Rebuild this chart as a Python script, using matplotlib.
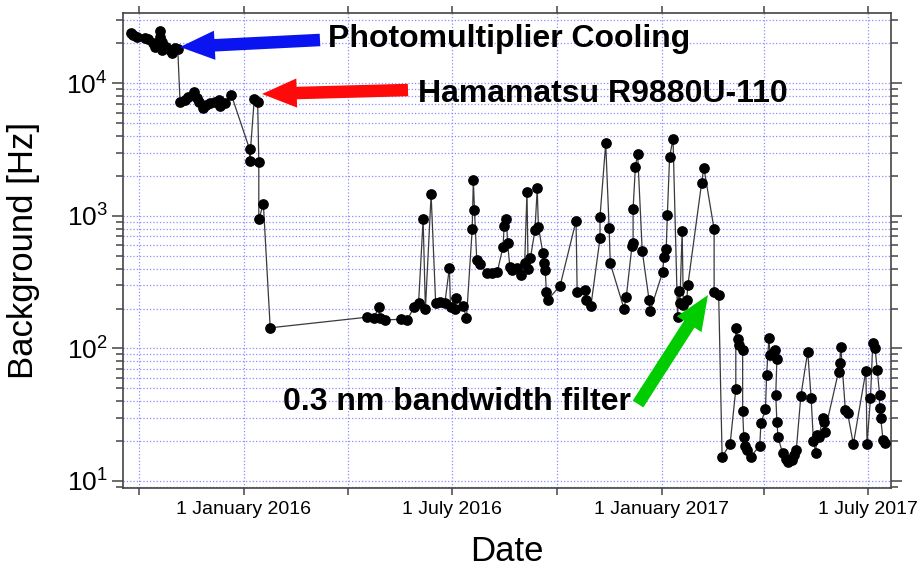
import matplotlib
matplotlib.use('Agg')
from matplotlib import pyplot as plt
import matplotlib.dates as mdates
import matplotlib.ticker as mticker
import numpy as np

plt.rcParams['font.family'] = ['Liberation Sans', 'DejaVu Sans']
plt.rcParams['mathtext.fontset'] = 'custom'
plt.rcParams['mathtext.rm'] = 'Liberation Sans'
plt.rcParams['mathtext.it'] = 'Liberation Sans:italic'
plt.rcParams['mathtext.bf'] = 'Liberation Sans:bold'

# measurement days, counted from 1 January 2016
days_since_2016 = [
    -99, -97, -94, -87, -84, -80, -78, -74, -74, -72, -72, -68, -65, -63, -60, -58,
    -56, -52, -49, -44, -41, -39, -36, -33, -30, -25, -22, -21, -17, -11,
    5, 5, 9, 12, 13, 13, 17, 23,
    108, 114, 118, 119, 124, 138, 143, 149, 153, 157, 159, 164, 168, 172, 176,
    180, 181, 185, 186, 192, 195, 200, 201, 202, 204, 207, 213, 217, 222,
    227, 228, 230, 231, 233, 235, 239, 243, 246, 248, 249, 251, 255, 257, 258,
    262, 263, 264, 265, 266, 277, 291, 292, 299, 300, 304, 312, 312, 317, 320,
    321, 333, 335, 340, 341, 341, 343, 345, 349, 355, 356, 367, 368, 370, 371,
    373, 376, 380, 381, 382, 384, 385, 388, 389, 401, 403, 412, 412, 416,
    419, 426, 431, 431, 433, 434, 437, 437, 438, 439, 441, 444, 452, 453, 457,
    458, 460, 461, 464, 465, 467, 466, 467, 468, 472, 475, 477, 480, 482, 484,
    488, 494, 497, 499, 501, 502, 504, 507, 508, 509, 521, 522, 523, 527, 529,
    534, 545, 546, 549, 551, 553, 555, 557, 557, 558, 560, 562,
]

# background count rate [Hz]
background_hz = [
    23800, 23100, 22400, 21800, 21500, 20100, 18800, 25000, 22300, 20600, 17800,
    18800, 17800, 17000, 18300, 18000,
    7200, 7470, 7900, 8630, 7690, 7250, 6470, 6850, 7050, 7250, 7470, 6730, 7050, 8150,
    3170, 2600, 7570, 7250, 2550, 940, 1230, 143,
    172, 169, 206, 169, 164, 166, 164, 204, 219, 942, 197, 1450, 219, 225, 219,
    404, 205, 200, 239, 209, 170, 791, 1860, 1110, 464, 433, 368, 372, 379,
    582, 837, 942, 627, 413, 387, 402, 358, 438, 1520, 395, 478, 781, 1610, 828,
    521, 438, 390, 268, 232, 296, 918, 265, 275, 232, 209, 677, 985, 3520, 805,
    438, 200, 244, 592, 627, 1130, 2350, 2920, 543, 232, 192, 379, 492, 559, 1010,
    2790, 3810, 173, 271, 220, 774, 212, 232, 301, 1760, 2310, 791, 268, 253,
    15.2, 19.0, 49.2, 142, 117, 106, 97, 33.7, 21.4, 18.2, 17.1, 15.2, 18.5, 27.2, 34.9,
    63, 119, 89, 92, 98, 83, 44.5, 28, 21.4, 16.2, 14.7, 14.0, 14.4, 15.8, 17.1,
    43.8, 94.4, 42.5, 20.1, 16.2, 22.2, 21.6, 29.7, 28.0, 23.5, 66.7, 77.2, 103, 34.3, 32.4,
    19.0, 67.6, 19.0, 42.0, 109, 100, 68.7, 44.5, 35.3, 29.7, 20.4, 19.2,
]

dates = np.datetime64('2016-01-01') + np.array(days_since_2016).astype('timedelta64[D]')

fig = plt.figure(figsize=(9.21, 5.68), dpi=100)
ax = fig.add_axes([123 / 921, 80 / 568, 768 / 921, 475 / 568])

ax.plot(dates, background_hz, color='#3a3a3a', linewidth=0.9, marker='o',
        markersize=6.7, markerfacecolor='black', markeredgecolor='black', zorder=3)

ax.set_yscale('log')
ax.set_ylim(8.85, 33900)
ax.set_xlim(np.datetime64('2015-09-17'), np.datetime64('2017-07-21'))

ax.xaxis.set_major_locator(mdates.MonthLocator(bymonth=[1, 7]))
ax.xaxis.set_minor_locator(mdates.MonthLocator(bymonth=[4, 10]))
ax.xaxis.set_major_formatter(mticker.FuncFormatter(
    lambda v, pos: '%d %s' % (mdates.num2date(v).day, mdates.num2date(v).strftime('%B %Y'))))
ax.yaxis.set_minor_locator(mticker.LogLocator(base=10, subs=np.arange(2, 10)))
ax.yaxis.set_minor_formatter(mticker.NullFormatter())

ax.grid(which='both', color='#8c8cff', linestyle=':', linewidth=0.9)
ax.set_axisbelow(True)

for s in ax.spines.values():
    s.set_color('#444444')
    s.set_linewidth(1.2)
ax.tick_params(which='both', direction='out', top=True, right=True, color='#444444', width=1.1)
ax.tick_params(axis='x', which='both', length=5, labelsize=14, pad=4)
ax.tick_params(axis='y', which='major', length=8, labelsize=19, pad=3)
ax.tick_params(axis='y', which='minor', length=5)

ax.set_xlabel('Date', fontsize=25)
ax.set_ylabel('Background [Hz]', fontsize=25)
ax.xaxis.set_label_coords(0.5, -0.099)
ax.yaxis.set_label_coords(-0.108, 0.5)

# annotations
ax.text(0.2669, 0.9284, 'Photomultiplier Cooling', transform=ax.transAxes,
        fontsize=23, fontweight='bold', ha='left', va='baseline')
ax.text(0.3841, 0.8126, 'Hamamatsu R9880U-110', transform=ax.transAxes,
        fontsize=23, fontweight='bold', ha='left', va='baseline')
ax.text(0.2083, 0.1642, '0.3 nm bandwidth filter', transform=ax.transAxes,
        fontsize=23, fontweight='bold', ha='left', va='baseline')

arrow_style = 'simple,head_length=1.25,head_width=1.05,tail_width=0.45'
for tail, tip, col in [((0.2565, 0.9432), (0.0742, 0.9284), '#0a14f0'),
                       ((0.3711, 0.8379), (0.181, 0.8295), '#ff0a0a'),
                       ((0.6706, 0.1768), (0.7617, 0.4063), '#00cc00')]:
    ax.annotate('', xy=tip, xytext=tail, xycoords='axes fraction', textcoords='axes fraction',
                arrowprops=dict(arrowstyle=arrow_style, color=col, mutation_scale=20,
                                shrinkA=0, shrinkB=0, linewidth=0), zorder=4)

plt.savefig('out.png', dpi=100)
